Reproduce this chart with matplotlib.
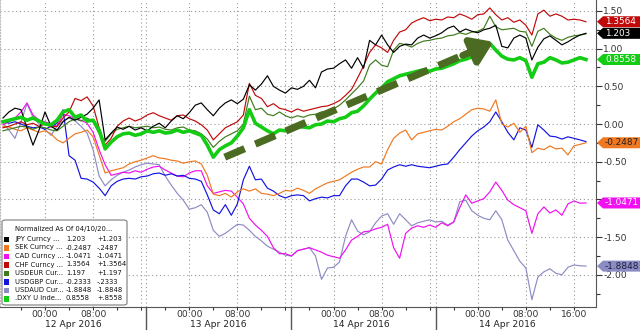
import matplotlib
matplotlib.use("Agg")
import matplotlib.pyplot as plt
import numpy as np
from matplotlib.patches import FancyBboxPatch, Polygon, Rectangle
from matplotlib.ticker import FixedLocator, MultipleLocator

plt.rcParams["axes.unicode_minus"] = False

# hourly samples, hour 0 = 00:00 12 Apr 2016
hours = np.arange(-7, 91)

jpy = [0.08, 0.16, 0.21, 0.19, -0.05, -0.28, -0.08, 0.16, -0.03, -0.08,
       0.03, 0.09, 0.05, 0.09, 0.13, 0.21, 0.32, -0.21, -0.12, -0.04,
       -0.07, -0.03, -0.08, -0.05, -0.09, -0.03, 0.01, -0.05, 0.04, 0.11,
       0.07, 0.15, 0.25, 0.28, 0.19, 0.11, 0.21, 0.28, 0.32, 0.27,
       0.33, 0.52, 0.45, 0.53, 0.64, 0.50, 0.45, 0.41, 0.48, 0.46,
       0.50, 0.58, 0.48, 0.69, 0.73, 0.74, 0.80, 0.85, 0.74, 0.88,
       0.74, 1.11, 1.05, 1.18, 1.05, 0.95, 1.03, 1.06, 1.05, 1.14,
       1.18, 1.14, 1.17, 1.21, 1.27, 1.30, 1.22, 1.26, 1.23, 1.21,
       1.25, 1.27, 1.31, 1.03, 1.01, 1.14, 1.18, 1.14, 0.85, 1.02,
       1.13, 1.17, 1.11, 1.05, 1.09, 1.14, 1.18, 1.203]
sek = [-0.03, -0.04, -0.07, -0.09, -0.05, -0.08, -0.11, -0.09, -0.13, -0.21,
       -0.25, -0.19, -0.13, -0.11, -0.08, -0.17, -0.41, -0.65, -0.62, -0.60,
       -0.58, -0.53, -0.50, -0.48, -0.45, -0.42, -0.45, -0.46, -0.48, -0.49,
       -0.52, -0.50, -0.49, -0.53, -0.68, -0.93, -0.95, -0.92, -0.97, -0.90,
       -0.86, -0.89, -0.86, -0.92, -0.93, -0.95, -0.92, -0.88, -0.89, -0.85,
       -0.88, -0.92, -0.86, -0.82, -0.78, -0.76, -0.74, -0.69, -0.64, -0.60,
       -0.57, -0.57, -0.50, -0.53, -0.34, -0.19, -0.12, -0.08, -0.21, -0.13,
       -0.11, -0.09, -0.07, -0.08, -0.03, 0.03, 0.07, 0.13, 0.19, 0.21,
       0.20, 0.17, 0.32, 0.00, -0.04, 0.01, -0.11, -0.03, -0.38, -0.32,
       -0.34, -0.29, -0.33, -0.32, -0.41, -0.29, -0.27, -0.2487]
cad = [-0.01, 0.03, 0.08, 0.16, 0.28, 0.12, 0.05, 0.03, 0.00, -0.03,
       0.13, 0.11, 0.07, 0.05, 0.01, -0.11, -0.34, -0.54, -0.68, -0.66,
       -0.64, -0.65, -0.62, -0.64, -0.60, -0.57, -0.56, -0.61, -0.65, -0.69,
       -0.70, -0.65, -0.62, -0.62, -0.82, -0.92, -0.90, -0.88, -0.89, -0.97,
       -1.06, -1.25, -1.34, -1.41, -1.49, -1.64, -1.72, -1.72, -1.75, -1.68,
       -1.66, -1.64, -1.67, -1.70, -1.74, -1.76, -1.78, -1.67, -1.54, -1.49,
       -1.43, -1.42, -1.39, -1.37, -1.33, -1.64, -1.78, -1.45, -1.38, -1.35,
       -1.37, -1.34, -1.37, -1.31, -1.35, -1.30, -1.11, -0.94, -1.05, -1.02,
       -0.99, -0.90, -0.77, -0.88, -1.01, -1.07, -1.11, -1.15, -1.45, -1.19,
       -1.10, -1.18, -1.14, -1.21, -1.06, -1.02, -1.05, -1.0471]
chf = [-0.05, -0.03, 0.00, 0.03, -0.01, 0.01, -0.03, 0.00, -0.04, -0.03,
       0.08, 0.16, 0.34, 0.31, 0.36, 0.24, -0.05, -0.28, -0.19, -0.03,
       0.04, 0.08, 0.04, 0.07, 0.12, 0.15, 0.11, 0.08, 0.05, 0.11,
       0.12, 0.07, 0.04, -0.01, -0.08, -0.21, -0.13, -0.05, -0.01, 0.03,
       0.12, 0.54, 0.38, 0.34, 0.23, 0.27, 0.21, 0.19, 0.16, 0.20,
       0.17, 0.19, 0.21, 0.23, 0.24, 0.27, 0.31, 0.38, 0.46, 0.61,
       0.77, 0.95, 1.05, 1.01, 0.95, 1.11, 1.22, 1.25, 1.34, 1.38,
       1.41, 1.37, 1.39, 1.38, 1.42, 1.41, 1.46, 1.43, 1.39, 1.45,
       1.46, 1.54, 1.45, 1.38, 1.41, 1.35, 1.38, 1.31, 1.18, 1.46,
       1.51, 1.43, 1.46, 1.43, 1.38, 1.39, 1.38, 1.3564]
usdeur = [-0.09, -0.07, -0.05, -0.03, -0.04, -0.07, -0.04, -0.05, -0.08, -0.09,
          -0.03, 0.03, 0.07, 0.04, 0.08, 0.03, -0.13, -0.23, -0.13, -0.07,
          -0.05, -0.03, -0.05, -0.04, -0.03, -0.05, -0.04, -0.07, -0.08, -0.05,
          -0.04, -0.08, -0.09, -0.13, -0.20, -0.31, -0.23, -0.17, -0.13, -0.09,
          0.00, 0.37, 0.19, 0.21, 0.13, 0.11, 0.16, 0.11, 0.08, 0.11,
          0.09, 0.12, 0.13, 0.16, 0.17, 0.20, 0.25, 0.32, 0.40, 0.48,
          0.57, 0.78, 0.85, 0.78, 0.76, 0.98, 1.07, 1.05, 1.02, 1.07,
          1.10, 1.11, 1.13, 1.14, 1.17, 1.18, 1.21, 1.19, 1.22, 1.23,
          1.27, 1.43, 1.29, 1.25, 1.26, 1.27, 1.23, 1.22, 1.03, 1.23,
          1.27, 1.19, 1.14, 1.11, 1.15, 1.17, 1.18, 1.197]
usdgbp = [0.04, 0.01, 0.03, 0.00, -0.03, -0.05, -0.04, -0.07, -0.03, 0.01,
          0.19, -0.42, -0.48, -0.72, -0.73, -0.77, -0.85, -0.95, -0.82, -0.76,
          -0.73, -0.72, -0.73, -0.70, -0.69, -0.66, -0.65, -0.68, -0.66, -0.69,
          -0.68, -0.72, -0.73, -0.76, -0.94, -1.14, -1.19, -1.07, -1.21, -1.06,
          -0.74, -0.56, -0.74, -0.73, -0.85, -0.89, -0.95, -0.98, -0.95, -0.94,
          -0.95, -1.02, -0.99, -0.97, -0.98, -0.95, -0.95, -0.82, -0.73, -0.73,
          -0.77, -0.82, -0.81, -0.73, -0.61, -0.57, -0.54, -0.56, -0.54, -0.56,
          -0.57, -0.58, -0.56, -0.54, -0.53, -0.44, -0.34, -0.25, -0.16, -0.09,
          -0.04, 0.03, 0.16, 0.03, -0.11, -0.21, -0.05, -0.08, -0.31, -0.01,
          -0.08, -0.16, -0.17, -0.20, -0.17, -0.19, -0.21, -0.2333]
usdaud = [0.01, -0.08, -0.19, 0.03, 0.27, 0.09, 0.00, -0.07, -0.15, -0.03,
          0.04, 0.08, 0.04, -0.03, -0.12, -0.34, -0.69, -0.82, -0.74, -0.68,
          -0.64, -0.61, -0.57, -0.54, -0.52, -0.53, -0.54, -0.69, -0.81, -0.92,
          -1.01, -1.13, -1.11, -1.07, -1.17, -1.41, -1.49, -1.45, -1.39, -1.33,
          -1.34, -1.41, -1.49, -1.55, -1.62, -1.66, -1.70, -1.74, -1.75, -1.68,
          -1.66, -1.64, -1.75, -2.06, -1.91, -1.90, -1.83, -1.49, -1.27, -1.42,
          -1.47, -1.43, -1.31, -1.22, -1.19, -1.33, -1.19, -1.27, -1.35, -1.31,
          -1.29, -1.27, -1.30, -1.29, -1.34, -1.30, -1.03, -1.01, -1.15, -1.21,
          -1.25, -1.27, -1.15, -1.27, -1.54, -1.68, -1.82, -1.91, -2.33, -2.03,
          -1.96, -1.92, -1.98, -2.00, -1.90, -1.87, -1.88, -1.8848]
dxy = [0.03, 0.05, 0.07, 0.09, 0.05, 0.08, 0.04, 0.00, -0.01, 0.05,
       0.16, 0.19, 0.09, 0.12, 0.04, 0.05, -0.08, -0.33, -0.24, -0.17,
       -0.13, -0.12, -0.15, -0.13, -0.09, -0.11, -0.09, -0.12, -0.11, -0.08,
       -0.11, -0.09, -0.12, -0.15, -0.28, -0.44, -0.34, -0.29, -0.25, -0.16,
       -0.05, 0.19, 0.01, -0.04, -0.09, -0.13, -0.08, -0.09, -0.05, -0.03,
       -0.04, -0.05, -0.01, 0.00, 0.04, 0.03, 0.07, 0.09, 0.15, 0.17,
       0.24, 0.33, 0.41, 0.48, 0.56, 0.60, 0.64, 0.66, 0.68, 0.70,
       0.72, 0.70, 0.73, 0.74, 0.77, 0.80, 0.84, 0.86, 0.89, 0.93,
       0.98, 1.07, 0.98, 0.90, 0.86, 0.85, 0.88, 0.84, 0.62, 0.80,
       0.82, 0.88, 0.85, 0.81, 0.82, 0.85, 0.88, 0.8558]

legend_names = ["JPY Curncy ...", "SEK Curncy ...", "CAD Curncy ...", "CHF Curncy ...",
                "USDEUR Cur...", "USDGBP Cur...", "USDAUD Cur...", ".DXY U Inde..."]
legend_last = ["1.203", "-0.2487", "-1.0471", "1.3564", "1.197", "-0.2333", "-1.8848", "0.8558"]
legend_chg = ["+1.203", "-.2487", "-1.0471", "+1.3564", "+1.197", "-.2333", "-1.8848", "+.8558"]

tick_hours = [0, 8, 24, 32, 48, 56, 72, 80, 88]
tick_labels = ["00:00", "08:00", "00:00", "08:00", "00:00", "08:00", "00:00", "08:00", "16:00"]
day_breaks = [16.8, 40.9, 65.0]
day_label_hours = [4.7, 28.8, 52.7, 77.0]
day_labels = ["12 Apr 2016", "13 Apr 2016", "14 Apr 2016", "14 Apr 2016"]

keys = ["JPY", "SEK", "CAD", "CHF", "USDEUR", "USDGBP", "USDAUD", "DXY"]
values_by_key = dict(zip(keys, [jpy, sek, cad, chf, usdeur, usdgbp, usdaud, dxy]))
colors = {"JPY": "#000000", "SEK": "#f07820", "CAD": "#f010f0", "CHF": "#c00a0a",
          "USDEUR": "#3f7a1c", "USDGBP": "#1414e0", "USDAUD": "#8c8cc4", "DXY": "#14cc14"}
draw_order = ["USDAUD", "CAD", "USDGBP", "SEK", "USDEUR", "CHF", "JPY"]
tag_series = ["CHF", "JPY", "DXY", "SEK", "CAD", "USDAUD"]
tag_text_colors = {"CHF": "white", "JPY": "white", "DXY": "white",
                   "SEK": "#222222", "CAD": "white", "USDAUD": "#1e1e3c"}

W, H = 640, 330
fig = plt.figure(figsize=(W / 100, H / 100), dpi=100)
ax = fig.add_axes([0, 23 / H, 596 / W, 307 / H])
ax.set_xlim(-7.49, 91.67)
ax.set_ylim(-2.427, 1.645)

grid_style = dict(color="#9a9a9a", lw=0.8, ls=(0, (1, 2.5)), zorder=0)
for y in np.arange(-2.0, 1.51, 0.5):
    ax.axhline(y, **grid_style)
for h in list(range(0, 89, 8)) + day_breaks:
    ax.axvline(h, **grid_style)

for key in draw_order:
    ax.plot(hours, values_by_key[key], color=colors[key], lw=0.85, zorder=2)
ax.plot(hours, dxy, color=colors["DXY"], lw=2.6, zorder=3, solid_joinstyle="round")

# trend arrow
arrow_color = "#4b6b22"
ax.plot([29.9, 70.0], [-0.44, 0.93], color=arrow_color, lw=5.2,
        dashes=(3.0, 1.6), dash_capstyle="butt", zorder=4)
ax.annotate("", xy=(74.6, 1.09), xytext=(69.5, 0.91),
            arrowprops=dict(arrowstyle="-|>,head_length=1.25,head_width=0.85",
                            color=arrow_color, lw=5, shrinkA=0, shrinkB=0), zorder=4)

# axes styling
ax.spines["top"].set_visible(False)
ax.spines["left"].set_color("#bbbbbb")
ax.spines["left"].set_linestyle(":")
ax.spines["right"].set_color("#555555")
ax.spines["bottom"].set_color("#555555")

ax.yaxis.tick_right()
y_ticks = np.arange(-2.0, 1.51, 0.5)
ax.yaxis.set_major_locator(FixedLocator(y_ticks))
ax.set_yticklabels(["" if abs(t + 1.0) < 1e-9 else f"{t:.2f}" for t in y_ticks])
ax.yaxis.set_minor_locator(MultipleLocator(0.25))
ax.tick_params(axis="y", which="major", length=4, width=0.8, pad=1.2,
               labelsize=6.6, colors="#333333")
ax.tick_params(axis="y", which="minor", length=3, width=0.8, colors="#333333")

ax.set_xticks(tick_hours)
ax.set_xticklabels(tick_labels)
ax.xaxis.set_minor_locator(MultipleLocator(4))
ax.tick_params(axis="x", which="major", length=2, width=0.8, pad=0.3,
               labelsize=6.6, colors="#333333")
ax.tick_params(axis="x", which="minor", length=2, width=0.8, colors="#333333")

xtrans = ax.get_xaxis_transform()
for h in day_breaks:
    ax.plot([h, h], [0, -0.08], transform=xtrans, color="#555555", lw=1.0, clip_on=False)
for h, label in zip(day_label_hours, day_labels):
    ax.text(h, -0.057, label, transform=xtrans, ha="center", va="center",
            fontsize=6.6, color="#222222")


def px(x, y):
    return x / W, 1 - y / H


# last-value tags on the right
fig.canvas.draw()
for key in tag_series:
    last = values_by_key[key][-1]
    yf = ax.transData.transform((0, last))[1] / H
    hh = 5.5 / H
    tag = Polygon([(597 / W, yf), (603 / W, yf + hh), (1.0, yf + hh),
                   (1.0, yf - hh), (603 / W, yf - hh)], closed=True,
                  transform=fig.transFigure, fc=colors[key], ec="none", zorder=30)
    fig.add_artist(tag)
    fig.text(605 / W, yf, legend_last[keys.index(key)], fontsize=6.4, ha="left",
             va="center", color=tag_text_colors[key], zorder=31)

# legend box
lx0, ly0 = px(2, 305)
lx1, ly1 = px(127, 220)
fig.add_artist(FancyBboxPatch((lx0, ly0), lx1 - lx0, ly1 - ly0,
                              boxstyle="round,pad=0,rounding_size=0.006",
                              transform=fig.transFigure, fc="white", ec="#8a8a8a",
                              lw=0.9, zorder=20))
legend_font = dict(fontsize=4.9, va="center", ha="left", color="#111111", zorder=21)
fig.text(*px(15, 228.5), "Normalized As Of 04/10/20...", **legend_font)
for i, key in enumerate(keys):
    y = 239 + 8.5 * i
    sx, sy = px(3.5, y + 3)
    fig.add_artist(Rectangle((sx, sy), 5.5 / W, 5.5 / H, transform=fig.transFigure,
                             fc=colors[key], ec="none", zorder=21))
    fig.text(*px(15, y), legend_names[i], **legend_font)
    fig.text(*px(66, y), legend_last[i], **legend_font)
    fig.text(*px(97, y), legend_chg[i], **legend_font)

fig.savefig("out.png", dpi=100)
